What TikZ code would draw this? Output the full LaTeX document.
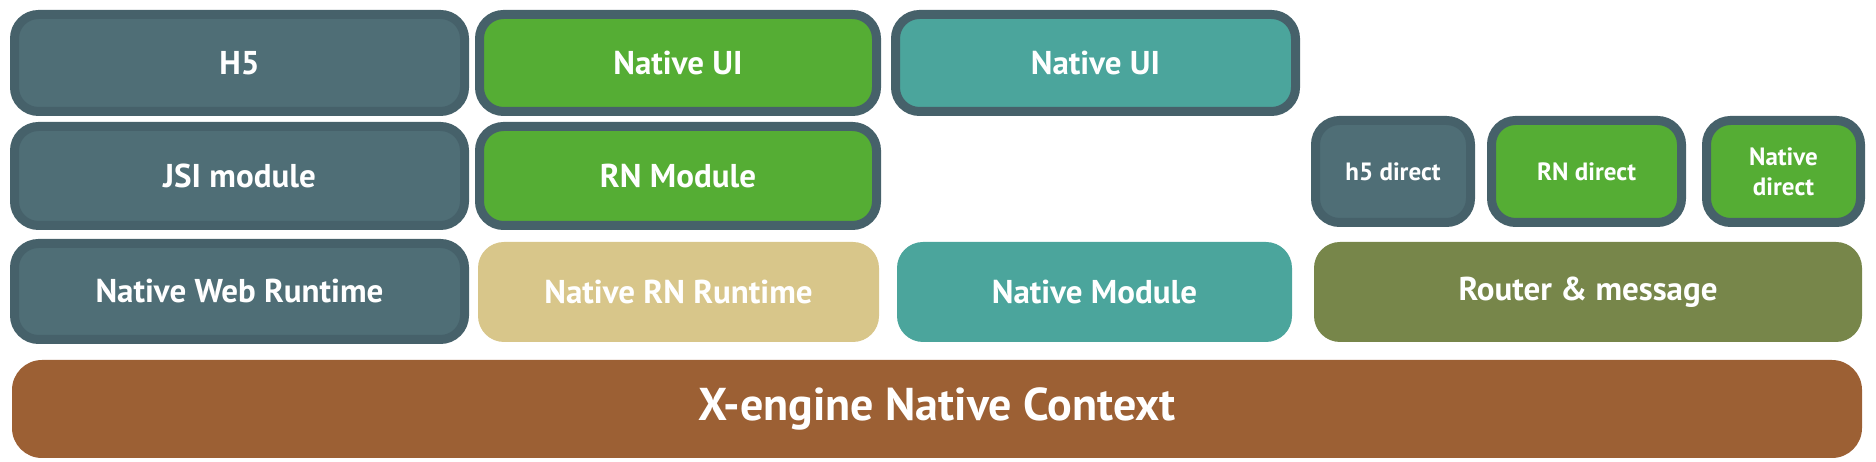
\documentclass[tikz,border=0pt]{standalone}
\usepackage{fontspec}
\setmainfont{PT Sans}
\definecolor{slate}{HTML}{4F6E76}
\definecolor{slateedge}{HTML}{46616A}
\definecolor{leaf}{HTML}{55AD34}
\definecolor{sea}{HTML}{4BA59C}
\definecolor{sand}{HTML}{D8C68A}
\definecolor{olive}{HTML}{77864A}
\definecolor{rust}{HTML}{9C6034}
\tikzset{
  base/.style={rectangle, inner sep=0pt, outer sep=0pt, text=white, font=\bfseries\fontsize{33}{36}\selectfont, align=center},
  rough/.style={base, draw=slateedge, line width=9pt, rounded corners=24pt},
  flat/.style={base, rounded corners=26pt},
  small/.style={font=\bfseries\fontsize{25}{28}\selectfont},
}
\begin{document}
\begin{tikzpicture}[x=1pt,y=1pt]
\useasboundingbox (0,0) rectangle (1876,462);
% row 1
\node[rough, fill=slate, minimum width=450, minimum height=97] (h5) at (239.5,399) {H5};
\node[rough, fill=leaf, minimum width=397, minimum height=97] (nui1) at (678,399) {Native UI};
\node[rough, fill=sea, minimum width=400, minimum height=97] (nui2) at (1095.5,399) {Native UI};
% row 2
\node[rough, fill=slate, minimum width=450, minimum height=99] (jsi) at (239.5,286) {JSI module};
\node[rough, fill=leaf, minimum width=397, minimum height=99] (rnm) at (678,286) {RN Module};
\node[rough, small, fill=slate, minimum width=155, minimum height=102] (h5d) at (1393,290.5) {h5 direct};
\node[rough, small, fill=leaf, minimum width=190, minimum height=102] (rnd) at (1586.5,290.5) {RN direct};
\node[rough, small, fill=leaf, minimum width=154, minimum height=102, font=\bfseries\fontsize{25}{30}\selectfont] (nd) at (1783.5,290.5) {Native\\direct};
% row 3
\node[rough, fill=slate, minimum width=450, minimum height=96] (nwr) at (239.5,170.5) {Native Web Runtime};
\node[flat, fill=sand, minimum width=401, minimum height=100] (nrr) at (678.5,170) {Native RN Runtime};
\node[flat, fill=sea, minimum width=395, minimum height=100] (nm) at (1094.5,170) {Native Module};
\node[flat, fill=olive, minimum width=548, minimum height=100] (rm) at (1588,170) {Router \& message};
% bottom
\node[flat, fill=rust, rounded corners=30pt, minimum width=1850, minimum height=98, font=\bfseries\fontsize{46}{50}\selectfont] (ctx) at (937,53) {X-engine Native Context};
\end{tikzpicture}
\end{document}
